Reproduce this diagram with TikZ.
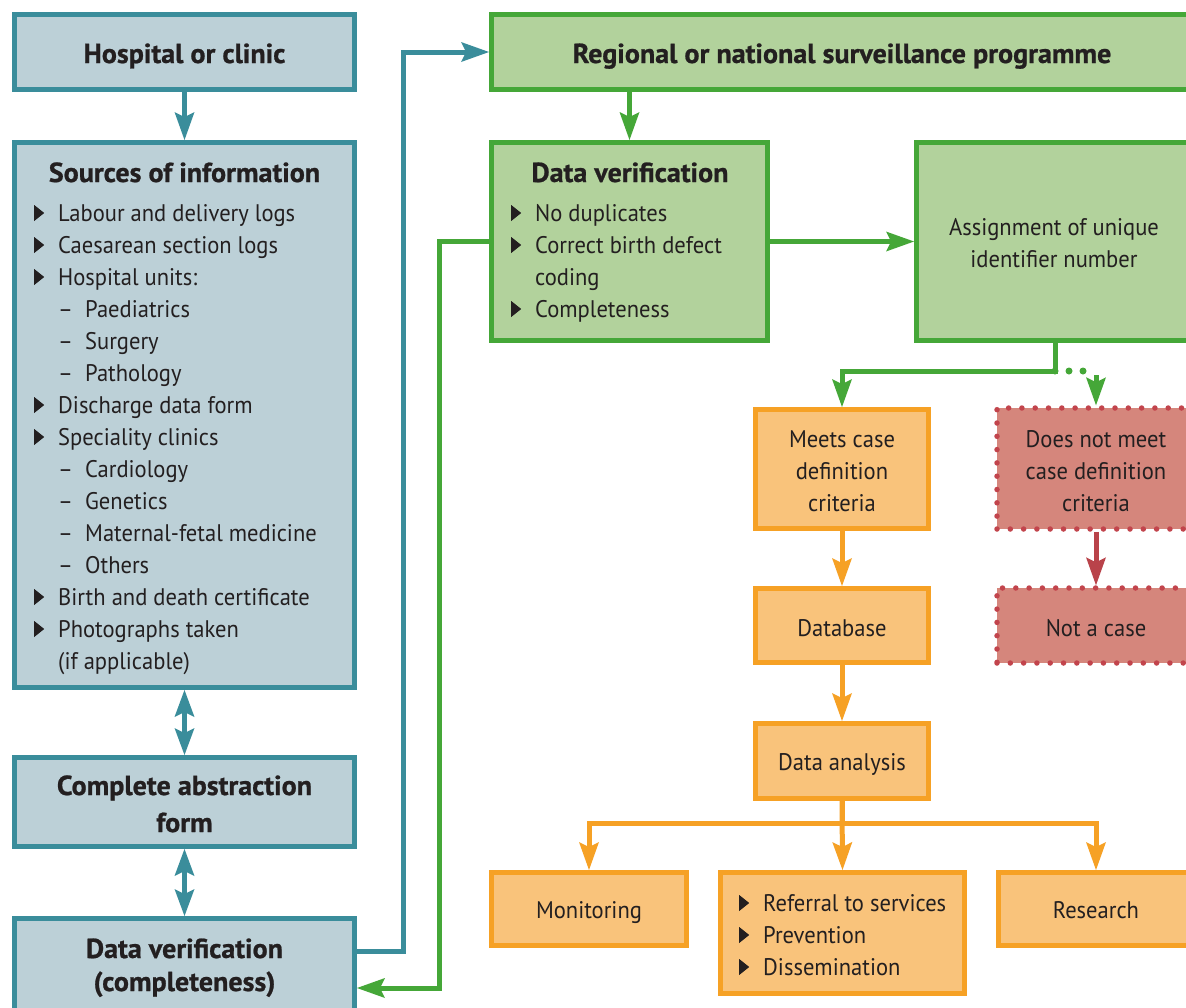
\documentclass[tikz,border=0pt]{standalone}
\usepackage{fontspec}
\setmainfont{PT Sans}
\newfontfamily\bodyf{PT Sans}[FakeStretch=0.94]
\newfontfamily\ttlf{PT Sans}[FakeStretch=1.02, BoldFeatures={FakeBold=0.8}]
\usetikzlibrary{arrows.meta,calc}
\definecolor{tealB}{HTML}{3A8D9B}
\definecolor{tealF}{HTML}{BCD0D7}
\definecolor{grnB}{HTML}{45A738}
\definecolor{grnF}{HTML}{B2D29C}
\definecolor{orB}{HTML}{F6A125}
\definecolor{orF}{HTML}{F9C37B}
\definecolor{redB}{HTML}{C2444C}
\definecolor{redF}{HTML}{D5867C}
\definecolor{redA}{HTML}{B9434A}
\definecolor{txt}{HTML}{231F20}
\newcommand\tri{\tikz[x=1pt,y=1pt,baseline=0pt]\fill[txt] (0,0)--(0,16)--(10,8)--cycle;}
\newcommand\bul[1]{\makebox[24pt][l]{\tri}#1}
\newcommand\dsh[1]{\makebox[27pt][l]{\textendash}#1}
\begin{document}
\begin{tikzpicture}[x=1pt,y=-1pt,
 box/.style={rectangle, draw, line width=5pt, inner sep=0pt},
 tbox/.style={box, draw=tealB, fill=tealF},
 gbox/.style={box, draw=grnB, fill=grnF},
 obox/.style={box, draw=orB, fill=orF},
 rbox/.style={rectangle, draw=redB, fill=redF, line width=5.5pt, line cap=round, dash pattern=on 0pt off 13.3pt, inner sep=0pt},
 body/.style={font=\bodyf\fontsize{24}{32}\selectfont, text=txt, inner sep=0pt},
 ttl/.style={font=\ttlf\fontsize{27.5}{34}\selectfont\bfseries, text=txt, inner sep=0pt},
 arr/.style={-{Stealth[length=28pt,width=20pt,inset=5pt,line width=0pt]}},
 darr/.style={{Stealth[length=27pt,width=20pt,inset=5pt,line width=0pt]}-{Stealth[length=27pt,width=20pt,inset=5pt,line width=0pt]}},
 tline/.style={draw=tealB, fill=tealB, line width=5pt},
 gline/.style={draw=grnB, fill=grnB, line width=5pt},
 oline/.style={draw=orB, fill=orB, line width=5pt},
 rline/.style={draw=redA, fill=redA, line width=5pt}
]
\path[use as bounding box, clip] (0,0) rectangle (1186,1007);
\fill[white] (0,0) rectangle (1186,1007);

% boxes
\node[tbox, minimum width=340pt, minimum height=75pt] (hosp) at (184.5,52) {};
\node[tbox, minimum width=340pt, minimum height=545pt] (src) at (184.5,415) {};
\node[tbox, minimum width=340pt, minimum height=89pt] (caf) at (184.5,802) {};
\node[tbox, minimum width=340pt, minimum height=113pt] (dvc) at (184.5,975) {};
\node[gbox, minimum width=702pt, minimum height=75pt] (reg) at (842.5,52) {};
\node[gbox, minimum width=276pt, minimum height=198pt] (dv) at (629.5,241.5) {};
\node[gbox, minimum width=277pt, minimum height=198pt] (asg) at (1055,241.5) {};
\node[obox, minimum width=173pt, minimum height=119pt] (meets) at (842,469) {};
\node[rbox, minimum width=198pt, minimum height=121pt] (dnm) at (1096,468.5) {};
\node[obox, minimum width=173pt, minimum height=74pt] (db) at (842,625.5) {};
\node[rbox, minimum width=198pt, minimum height=75pt] (nac) at (1096,625.5) {};
\node[obox, minimum width=173pt, minimum height=75pt] (da) at (842,761) {};
\node[obox, minimum width=195pt, minimum height=73pt] (mon) at (589,909) {};
\node[obox, minimum width=244pt, minimum height=121pt] (ref) at (842.5,933) {};
\node[obox, minimum width=195pt, minimum height=73pt] (res) at (1096,909) {};

% connectors
\draw[tline, arr] (hosp.south) -- (src.north);
\draw[tline, darr] (src.south) -- (caf.north);
\draw[tline, darr] (caf.south) -- (dvc.north);
\draw[tline, fill=none, arr] ([yshift=24pt]dvc.east) -- ++(46,0) |- (reg.west);
\draw[gline, fill=none, arr] (dv.west) -- ++(-50,0) |- ([yshift=-13pt]dvc.east);
\draw[gline, arr] (dv.north |- reg.south) -- (dv.north);
\draw[gline, arr] (dv.east) -- (asg.west);
\coordinate (split) at ($(asg.south)+(0,28)$);
\draw[gline, fill=none, arr] (asg.south) -- (split) -| (meets.north);
\draw[grnB, line width=7pt, line cap=round, dash pattern=on 0pt off 14pt] (split) -- (split -| dnm.north);
\draw[gline, arr] ([yshift=30pt]dnm.north) -- (dnm.north);
\draw[rline, arr] (dnm.south) -- (nac.north);
\draw[oline, arr] (meets.south) -- (db.north);
\draw[oline, arr] (db.south) -- (da.north);
\draw[oline, arr] (da.south) -- (ref.north);
\draw[oline, fill=none, arr] (da.south) -- ++(0,22) -| (mon.north);
\draw[oline, fill=none, arr] (da.south) -- ++(0,22) -| (res.north);

% left column texts
\node[ttl, anchor=base] (t1) at (184.5,63) {Hospital or clinic};
\node[ttl, anchor=base] (t2) at (184.5,182) {Sources of information};
\node[body, anchor=base west] (s1) at (34,221) {\bul{Labour and delivery logs}};
\node[body, anchor=base west] (s2) at (34,253) {\bul{Caesarean section logs}};
\node[body, anchor=base west] (s3) at (34,285) {\bul{Hospital units:}};
\node[body, anchor=base west] (s4) at (58,317) {\dsh{Paediatrics}};
\node[body, anchor=base west] (s5) at (58,349) {\dsh{Surgery}};
\node[body, anchor=base west] (s6) at (58,381) {\dsh{Pathology}};
\node[body, anchor=base west] (s7) at (34,413) {\bul{Discharge data form}};
\node[body, anchor=base west] (s8) at (34,445) {\bul{Speciality clinics}};
\node[body, anchor=base west] (s9) at (58,477) {\dsh{Cardiology}};
\node[body, anchor=base west] (s10) at (58,509) {\dsh{Genetics}};
\node[body, anchor=base west] (s11) at (58,541) {\dsh{Maternal-fetal medicine}};
\node[body, anchor=base west] (s12) at (58,573) {\dsh{Others}};
\node[body, anchor=base west] (s13) at (34,605) {\bul{Birth and death certificate}};
\node[body, anchor=base west] (s14) at (34,637) {\bul{Photographs taken}};
\node[body, anchor=base west] (s15) at (58,669) {(if applicable)};
\node[ttl, anchor=base] (t3) at (184.5,795) {Complete abstraction};
\node[ttl, anchor=base] (t4) at (184.5,832) {form};
\node[ttl, anchor=base] (t5) at (184.5,958) {Data verification};
\node[ttl, anchor=base] (t6) at (184.5,991) {(completeness)};

% right texts
\node[ttl, anchor=base] (t7) at (842,63) {Regional or national surveillance programme};
\node[ttl, anchor=base] (t8) at (630,182) {Data verification};
\node[body, anchor=base west] (v1) at (511,221) {\bul{No duplicates}};
\node[body, anchor=base west] (v2) at (511,253) {\bul{Correct birth defect}};
\node[body, anchor=base west] (v3) at (535,285) {coding};
\node[body, anchor=base west] (v4) at (511,317) {\bul{Completeness}};
\node[body, anchor=base] (a1) at (1054,235) {Assignment of unique};
\node[body, anchor=base] (a2) at (1054,267) {identifier number};
\node[body, anchor=base] (m1) at (842,447) {Meets case};
\node[body, anchor=base] (m2) at (842,479) {definition};
\node[body, anchor=base] (m3) at (842,511) {criteria};
\node[body, anchor=base] (n1) at (1096,447) {Does not meet};
\node[body, anchor=base] (n2) at (1096,479) {case definition};
\node[body, anchor=base] (n3) at (1096,511) {criteria};
\node[body, anchor=base] (d1) at (842,636) {Database};
\node[body, anchor=base] (d2) at (1096,636) {Not a case};
\node[body, anchor=base] (d3) at (842,770) {Data analysis};
\node[body, anchor=base] (o1) at (589,918) {Monitoring};
\node[body, anchor=base] (o2) at (1096,918) {Research};
\node[body, anchor=base west] (r1) at (739,911) {\bul{Referral to services}};
\node[body, anchor=base west] (r2) at (739,943) {\bul{Prevention}};
\node[body, anchor=base west] (r3) at (739,975) {\bul{Dissemination}};
\end{tikzpicture}
\end{document}
